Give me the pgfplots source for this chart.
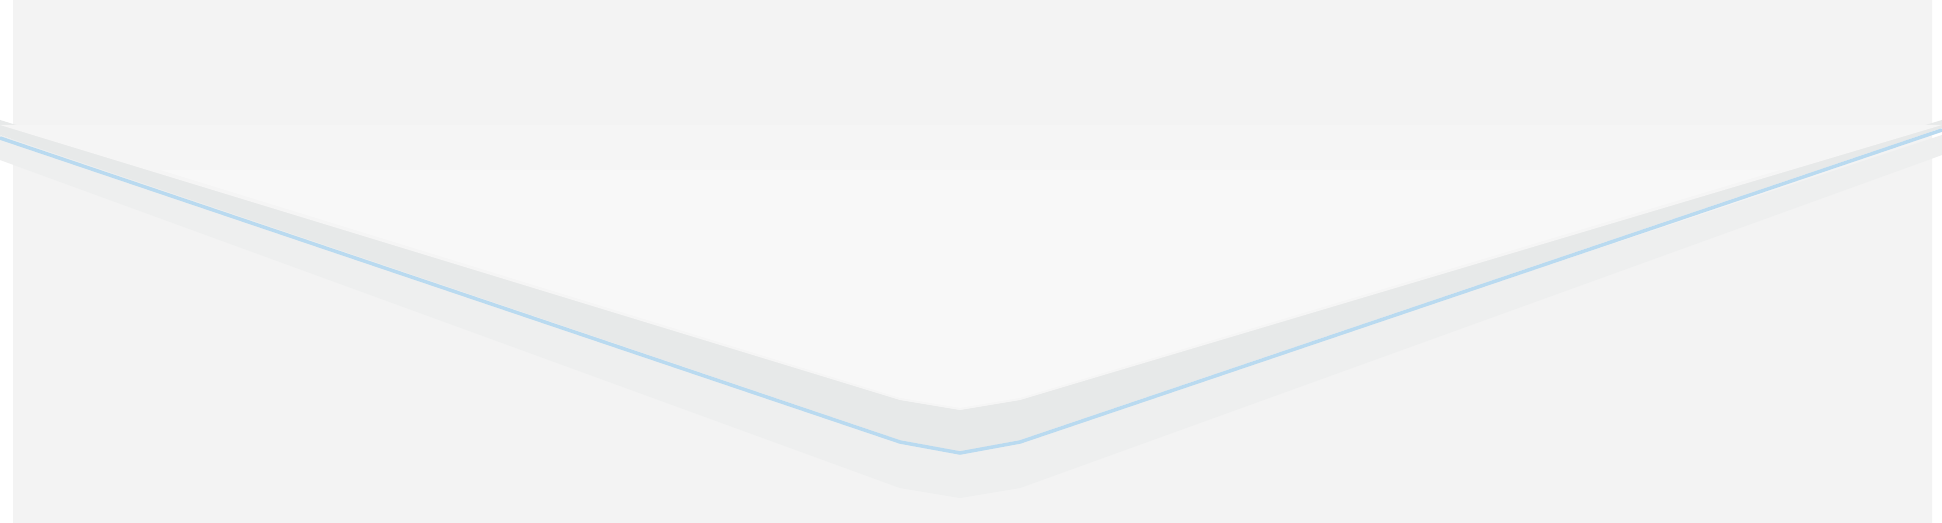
\documentclass[border=0pt]{standalone}
\usepackage{pgfplots}
\pgfplotsset{compat=1.18}
\begin{document}
\begin{tikzpicture}
\begin{axis}[width=19.42cm,height=5.23cm,scale only axis,hide axis,
 xmin=0,xmax=1942,ymin=0,ymax=523,y dir=reverse,clip=true]
\addplot[draw=none,fill=white] coordinates {(0,0)(1942,0)(1942,523)(0,523)} \closedcycle;
\addplot[draw=none,fill={rgb,255:red,243;green,243;blue,243}] coordinates {(13,0)(1932,0)(1932,523)(13,523)(13,0)};
% lower shadow band
\addplot[draw=none,fill={rgb,255:red,238;green,239;blue,239},no markers] coordinates {(0,145)(0,160)(900,488)(960,498)(1020,488)(1942,155)(1942,135)(1020,440)(960,452)(900,440)(0,135)};
% middle band
\addplot[draw=none,fill={rgb,255:red,231;green,233;blue,233},no markers] coordinates {(0,135)(900,440)(960,452)(1020,440)(1942,128)(1942,120)(1020,400)(960,410)(900,400)(0,120)};
% top surface
\addplot[draw=none,fill={rgb,255:red,245;green,245;blue,245},no markers] coordinates {(0,125)(1942,125)(1020,400)(960,410)(900,400)(0,125)};
\addplot[draw=none,fill={rgb,255:red,248;green,248;blue,248},no markers] coordinates {(160,170)(1780,170)(1020,398)(960,408)(900,398)(160,170)};
% blue line
\addplot[no markers,line width=1pt,color={rgb,255:red,185;green,218;blue,240}] coordinates {(0,138)(900,442)(960,453)(1020,442)(1942,130)};
\end{axis}
\end{tikzpicture}
\end{document}
